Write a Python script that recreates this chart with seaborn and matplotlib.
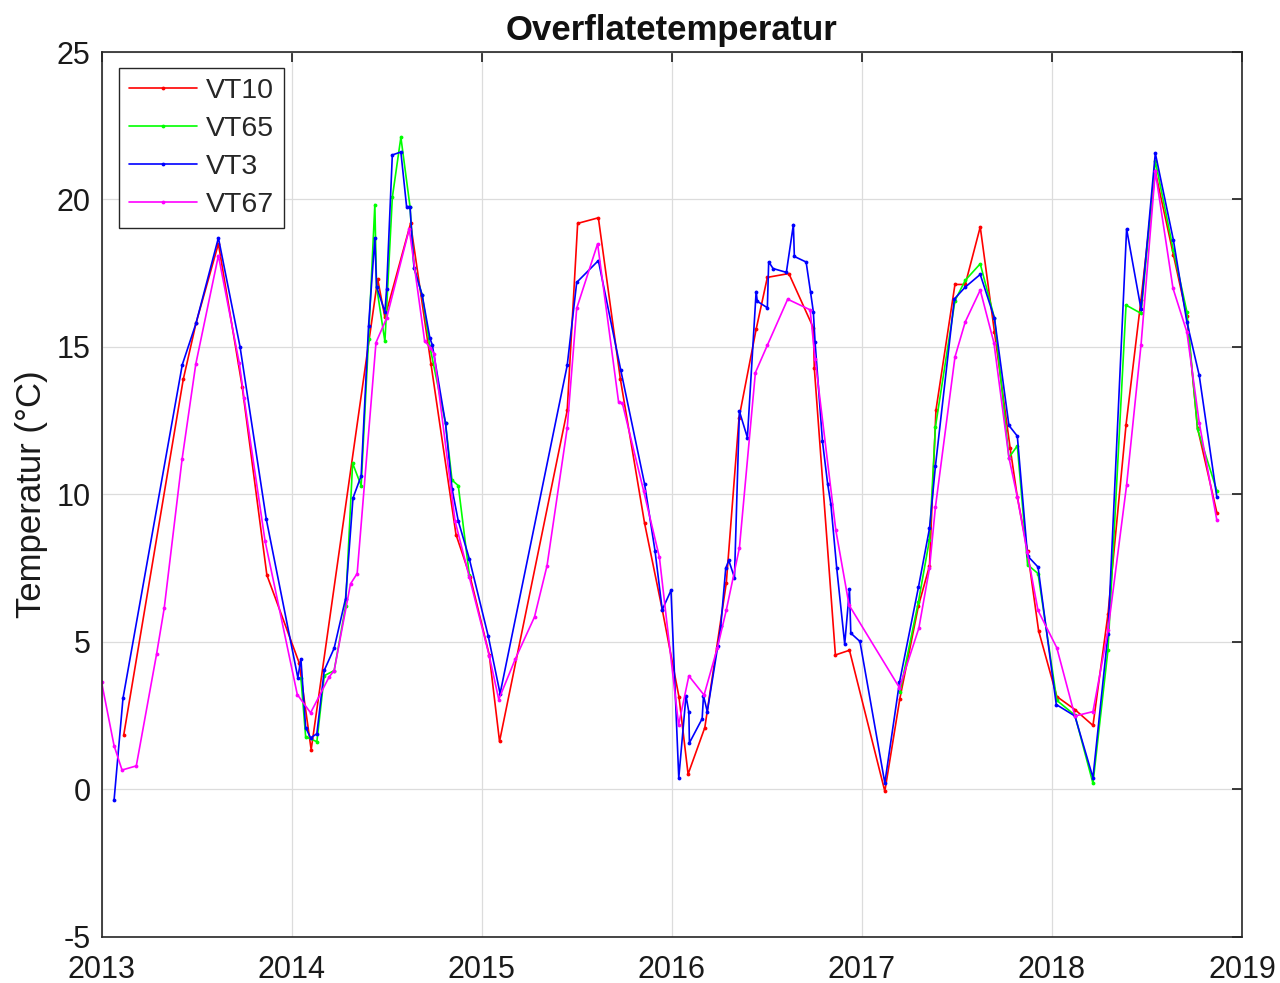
import numpy as np
import pandas as pd
import seaborn as sns
import matplotlib.pyplot as plt
from matplotlib.lines import Line2D

# decimal years and surface temperatures (°C) for each station
vt10_x = [2013.117, 2013.43, 2013.497, 2013.615, 2013.74, 2013.87, 2014.04, 2014.103, 2014.453, 2014.491,
          2014.626, 2014.733, 2014.865, 2014.94, 2015.04, 2015.094, 2015.45, 2015.505, 2015.614, 2015.73,
          2015.857, 2015.95, 2016.038, 2016.086, 2016.174, 2016.287, 2016.354, 2016.444, 2016.503, 2016.616,
          2016.745, 2016.75, 2016.861, 2016.935, 2017.121, 2017.2, 2017.298, 2017.356, 2017.39, 2017.49,
          2017.544, 2017.623, 2017.698, 2017.78, 2017.818, 2017.872, 2017.93, 2018.026, 2018.121, 2018.216,
          2018.295, 2018.39, 2018.469, 2018.544, 2018.639, 2018.71, 2018.766, 2018.868]
vt10_y = [1.85, 13.9, 15.8, 18.5, 13.66, 7.27, 4.29, 1.35, 17.3, 16.0,
          19.19, 14.44, 8.64, 7.2, 4.56, 1.63, 12.85, 19.19, 19.38, 13.9,
          9.03, 6.1, 3.14, 0.52, 2.1, 7.0, 12.6, 15.6, 17.36, 17.49,
          15.65, 14.29, 4.56, 4.72, -0.06, 3.08, 6.23, 7.58, 12.86, 17.12,
          17.12, 19.07, 15.5, 11.59, 9.92, 8.07, 5.38, 3.15, 2.71, 2.17,
          5.94, 12.36, 16.61, 20.95, 18.13, 16.04, 12.26, 9.38]

# VT65 has no measurements between early 2015 and 2017 (two segments)
vt65_x1 = [2014.049, 2014.074, 2014.133, 2014.172, 2014.224, 2014.284, 2014.321, 2014.366, 2014.405, 2014.438,
           2014.447, 2014.491, 2014.53, 2014.575, 2014.623, 2014.644, 2014.687, 2014.728, 2014.81, 2014.844,
           2014.877, 2014.935]
vt65_y1 = [3.79, 1.79, 1.62, 3.86, 4.03, 6.21, 11.06, 10.3, 15.27, 19.83,
           17.05, 15.19, 20.07, 22.11, 19.76, 17.69, 16.76, 15.0, 12.41, 10.49,
           10.3, 7.28]
vt65_x2 = [2017.2, 2017.298, 2017.356, 2017.387, 2017.49, 2017.544, 2017.623, 2017.698, 2017.774, 2017.818,
           2017.872, 2017.927, 2018.026, 2018.121, 2018.216, 2018.295, 2018.39, 2018.469, 2018.544, 2018.639,
           2018.71, 2018.766, 2018.868]
vt65_y2 = [3.3, 6.37, 8.47, 12.28, 16.57, 17.26, 17.82, 15.97, 11.25, 11.65,
           7.62, 7.32, 3.02, 2.52, 0.21, 4.73, 16.42, 16.14, 21.31, 18.28,
           16.2, 12.22, 10.12]

vt3_x = [2013.066, 2013.113, 2013.425, 2013.497, 2013.615, 2013.729, 2013.867, 2014.033, 2014.049, 2014.074,
         2014.10, 2014.133, 2014.172, 2014.224, 2014.284, 2014.323, 2014.366, 2014.405, 2014.438, 2014.447,
         2014.491, 2014.5, 2014.53, 2014.575, 2014.605, 2014.623, 2014.644, 2014.687, 2014.728, 2014.74,
         2014.81, 2014.844, 2014.877, 2014.935, 2015.035, 2015.097, 2015.45, 2015.50, 2015.614, 2015.732,
         2015.857, 2015.912, 2015.95, 2015.996, 2016.037, 2016.075, 2016.09, 2016.093, 2016.16, 2016.167,
         2016.187, 2016.242, 2016.258, 2016.284, 2016.30, 2016.33, 2016.356, 2016.398, 2016.444, 2016.45,
         2016.503, 2016.51, 2016.533, 2016.603, 2016.64, 2016.645, 2016.707, 2016.73, 2016.745, 2016.754,
         2016.793, 2016.82, 2016.837, 2016.868, 2016.91, 2016.935, 2016.942, 2016.99, 2017.121, 2017.198,
         2017.298, 2017.356, 2017.387, 2017.487, 2017.544, 2017.623, 2017.698, 2017.774, 2017.818, 2017.872,
         2017.927, 2018.023, 2018.121, 2018.216, 2018.295, 2018.393, 2018.469, 2018.544, 2018.639, 2018.71,
         2018.775, 2018.868]
vt3_y = [-0.37, 3.09, 14.4, 15.8, 18.7, 15.0, 9.16, 3.79, 4.43, 2.1,
         1.75, 1.89, 4.04, 4.79, 6.47, 9.88, 10.63, 15.72, 18.69, 17.05,
         16.19, 16.98, 21.51, 21.61, 19.76, 19.76, 17.69, 16.76, 15.29, 15.08,
         12.41, 10.2, 9.1, 7.82, 5.19, 3.25, 14.375, 17.19, 17.93, 14.21,
         10.36, 8.09, 6.09, 6.75, 0.39, 3.18, 2.62, 1.58, 2.4, 3.18,
         2.64, 4.85, 5.54, 7.5, 7.77, 7.18, 12.82, 11.93, 16.88, 16.55,
         16.33, 17.89, 17.66, 17.53, 19.15, 18.07, 17.88, 16.87, 16.19, 15.17,
         11.8, 10.37, 9.68, 7.5, 4.93, 6.79, 5.3, 5.02, 0.22, 3.63,
         6.86, 8.85, 10.95, 16.63, 17.03, 17.46, 15.97, 12.34, 11.98, 7.92,
         7.54, 2.88, 2.49, 0.4, 5.27, 19.0, 16.28, 21.57, 18.63, 15.85,
         14.04, 9.9]

vt67_x = [2013.0, 2013.066, 2013.108, 2013.183, 2013.29, 2013.33, 2013.424, 2013.496, 2013.615, 2013.725,
          2013.75, 2013.86, 2014.03, 2014.10, 2014.198, 2014.224, 2014.31, 2014.345, 2014.444, 2014.5,
          2014.619, 2014.7, 2014.73, 2014.75, 2014.86, 2014.935, 2015.04, 2015.09, 2015.176, 2015.278,
          2015.344, 2015.45, 2015.50, 2015.61, 2015.72, 2015.74, 2015.852, 2015.935, 2016.036, 2016.09,
          2016.17, 2016.24, 2016.287, 2016.356, 2016.44, 2016.503, 2016.61, 2016.728, 2016.754, 2016.863,
          2016.933, 2017.198, 2017.3, 2017.356, 2017.387, 2017.49, 2017.544, 2017.623, 2017.695, 2017.774,
          2017.818, 2017.87, 2017.927, 2018.026, 2018.121, 2018.216, 2018.295, 2018.393, 2018.469, 2018.544,
          2018.637, 2018.71, 2018.775, 2018.868]
vt67_y = [3.65, 1.49, 0.66, 0.8, 4.6, 6.15, 11.2, 14.42, 18.1, 14.45,
          13.27, 8.44, 3.22, 2.6, 3.82, 4.03, 6.97, 7.32, 15.15, 15.98,
          19.0, 15.2, 14.98, 14.77, 9.1, 7.2, 4.53, 3.05, 4.41, 5.85,
          7.59, 12.25, 16.31, 18.5, 13.15, 13.1, 10.125, 7.875, 2.19, 3.85,
          3.2, 4.8, 6.08, 8.19, 14.13, 15.06, 16.62, 16.26, 14.61, 8.8,
          6.25, 3.45, 5.47, 7.5, 9.56, 14.66, 15.85, 16.93, 15.14, 11.25,
          9.92, 8.04, 6.07, 4.8, 2.49, 2.64, 5.39, 10.32, 15.08, 20.95,
          16.99, 15.51, 12.44, 9.12]

stations = ['VT10', 'VT65', 'VT3', 'VT67']
colors = {'VT10': '#ff0000', 'VT65': '#00ff00', 'VT3': '#0000ff', 'VT67': '#ff00ff'}
year_ticks = [2013, 2014, 2015, 2016, 2017, 2018, 2019]
temp_ticks = [-5, 0, 5, 10, 15, 20, 25]

segments = [('VT10', 0, vt10_x, vt10_y), ('VT65', 1, vt65_x1, vt65_y1), ('VT65', 2, vt65_x2, vt65_y2),
            ('VT3', 3, vt3_x, vt3_y), ('VT67', 4, vt67_x, vt67_y)]
df = pd.concat([pd.DataFrame({'year': x, 'temp': y, 'station': s, 'seg': k})
                for s, k, x, y in segments], ignore_index=True)

sns.set_style('white')
plt.rcParams['font.family'] = ['Liberation Sans', 'DejaVu Sans']
plt.rcParams['axes.unicode_minus'] = False

fig = plt.figure(figsize=(12.8, 9.83), dpi=100)
ax = fig.add_axes([0.0793, 0.0468, 0.8910, 0.9003])

sns.lineplot(data=df, x='year', y='temp', hue='station', units='seg', estimator=None, sort=False,
             palette=colors, hue_order=stations, marker='.', markersize=5.5, markeredgewidth=0,
             linewidth=1.2, legend=False, ax=ax)

ax.set_xlim(2013, 2019)
ax.set_ylim(-5, 25)
ax.set_xticks(year_ticks)
ax.set_xticklabels([str(t) for t in year_ticks])
ax.set_yticks(temp_ticks)
ax.grid(True, color='#dcdcdc', linewidth=0.9)
ax.tick_params(direction='in', length=7, width=1.2, labelsize=22, colors='#1a1a1a',
               top=True, right=True)
ax.tick_params(axis='x', pad=13)
ax.tick_params(axis='y', pad=8)
for sp in ax.spines.values():
    sp.set_color('#262626')
    sp.set_linewidth(1.2)

ax.set_xlabel('')
ax.set_ylabel('Temperatur (°C)', fontsize=25, color='#1a1a1a', labelpad=6)
ax.set_title('Overflatetemperatur', fontsize=25, fontweight='bold', color='#111111', pad=9)

handles = [Line2D([], [], color=colors[s], marker='.', markersize=5.5, markeredgewidth=0, linewidth=1.2)
           for s in stations]
leg = ax.legend(handles, stations, loc='upper left', bbox_to_anchor=(0.0153, 0.982), borderaxespad=0,
                fontsize=20.5, frameon=True, fancybox=False, framealpha=1, edgecolor='#262626',
                handlelength=2.4, handletextpad=0.3, labelspacing=0.42, borderpad=0.35)
leg.get_frame().set_linewidth(1.0)

plt.savefig('out.png', dpi=100)
